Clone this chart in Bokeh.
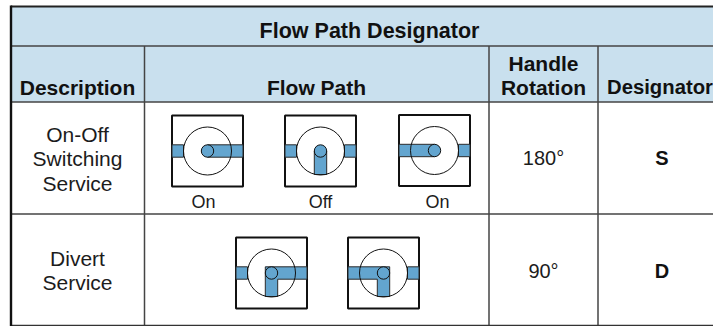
from bokeh.plotting import figure
from bokeh.models import Range1d
from bokeh.core.properties import value
from bokeh.embed import file_html
from bokeh.resources import INLINE

# table content
title = "Flow Path Designator"
headers = ["Description", "Flow Path", "Handle\nRotation", "Designator"]
descriptions = ["On-Off\nSwitching\nService", "Divert\nService"]
rotations = ["180°", "90°"]
designators = ["S", "D"]
state_labels = ["On", "Off", "On"]

# table grid
col_edges = [10.5, 144, 488.5, 597.5, 713]
row_edges = [6, 45.5, 101.5, 213.5, 325]
col_centers = [77, 316, 543, 661.5]
row_centers = [157, 270]

# valve symbols: centre x, centre y, open arms
valve_x = [207, 320, 434, 271, 383]
valve_y = [150.5, 150.5, 150, 272.5, 272.5]
valve_arms = [["right"], ["down"], ["left"], ["right", "down"], ["left", "down"]]
label_x = [203, 320, 437]
label_y = [201, 201.5, 201]

HALF = 35.5
R_BIG = 24
R_SMALL = 6.2
BAND = 6.2
BLUE = "#63a5cf"
HEAD = "#c9e0ee"
FONT = value("Liberation Sans")
INK = "#1c1c1c"

p = figure(width=713, height=326, output_backend="svg", toolbar_location=None,
           x_range=Range1d(0, 713), y_range=Range1d(326, 0), min_border=0,
           outline_line_color=None, background_fill_color="white",
           border_fill_color="white")
p.axis.visible = False
p.grid.visible = False

# header fills
p.quad(left=col_edges[0], right=col_edges[-1], top=row_edges[0], bottom=row_edges[2],
       fill_color=HEAD, line_color=None)

# grid lines
p.segment(x0=[col_edges[0]] * 3, x1=[col_edges[-1]] * 3, y0=row_edges[1:4], y1=row_edges[1:4],
          line_color="#444444", line_width=1.5)
p.segment(x0=col_edges[1:4], x1=col_edges[1:4], y0=[row_edges[1]] * 3, y1=[row_edges[-1]] * 3,
          line_color="#444444", line_width=1.5)
p.segment(x0=[col_edges[0]], x1=[col_edges[-1]], y0=[row_edges[-1]], y1=[row_edges[-1]],
          line_color="#333333", line_width=1.5)
p.segment(x0=[col_edges[0]], x1=[col_edges[-1]], y0=[row_edges[0]], y1=[row_edges[0]],
          line_color="#222222", line_width=2.2)
p.segment(x0=[col_edges[0]], x1=[col_edges[0]], y0=[row_edges[0] - 1], y1=[row_edges[-1] + 1],
          line_color="#111111", line_width=2.4)

# valves
p.quad(left=[x - HALF for x in valve_x], right=[x + HALF for x in valve_x],
       top=[y - HALF for y in valve_y], bottom=[y + HALF for y in valve_y],
       fill_color="white", line_color="#111111", line_width=2)

xs, ys = [], []
for cx, cy, arms in zip(valve_x, valve_y, valve_arms):
    left, right = cx - HALF, cx + HALF
    if "left" not in arms:
        xs.append([left, cx - R_BIG, cx - R_BIG, left])
        ys.append([cy - BAND, cy - BAND, cy + BAND, cy + BAND])
    if "right" not in arms:
        xs.append([cx + R_BIG, right, right, cx + R_BIG])
        ys.append([cy - BAND, cy - BAND, cy + BAND, cy + BAND])
    if arms == ["right"]:
        xs.append([cx, right, right, cx])
        ys.append([cy - BAND, cy - BAND, cy + BAND, cy + BAND])
    elif arms == ["left"]:
        xs.append([left, cx, cx, left])
        ys.append([cy - BAND, cy - BAND, cy + BAND, cy + BAND])
    elif arms == ["down"]:
        xs.append([cx - BAND, cx + BAND, cx + BAND, cx - BAND])
        ys.append([cy, cy, cy + R_BIG - 0.5, cy + R_BIG - 0.5])
    elif arms == ["right", "down"]:
        xs.append([cx - BAND, right, right, cx + BAND, cx + BAND, cx - BAND])
        ys.append([cy - BAND, cy - BAND, cy + BAND, cy + BAND, cy + R_BIG - 0.5, cy + R_BIG - 0.5])
    else:
        xs.append([left, cx + BAND, cx + BAND, cx - BAND, cx - BAND, left])
        ys.append([cy - BAND, cy - BAND, cy + R_BIG - 0.5, cy + R_BIG - 0.5, cy + BAND, cy + BAND])
p.patches(xs, ys, fill_color=BLUE, line_color="#2b2b2b", line_width=1)

p.circle(valve_x, valve_y, radius=R_BIG, fill_color=None, line_color="#111111", line_width=1)
p.circle(valve_x, valve_y, radius=R_SMALL, fill_color=BLUE, line_color="#111111", line_width=1)

# texts
LINE = 24.3
def txt(x, y, s, size, bold=False, color=INK):
    for i, line in enumerate(s):
        p.text([x], [y + i * LINE], text=[line], text_font=FONT, text_font_size=f"{size}px",
               text_font_style="bold" if bold else "normal", text_color=color,
               text_align="center", text_baseline="middle")

txt(369, 30.5, [title], 21.5, True, "#111111")
txt(col_centers[0], 86.5, [headers[0]], 21, True, "#111111")
txt(col_centers[1], 86.5, [headers[1]], 21, True, "#111111")
txt(col_centers[2], 62.5, headers[2].split("\n"), 21, True, "#111111")
txt(659.5, 86.5, [headers[3]], 20.3, True, "#111111")

txt(col_centers[0], 134, descriptions[0].split("\n"), 21)
txt(col_centers[0], 257.5, descriptions[1].split("\n"), 21)
txt(col_centers[2], row_centers[0], [rotations[0]], 20)
txt(col_centers[2], row_centers[1], [rotations[1]], 20)
txt(col_centers[3], row_centers[0], [designators[0]], 20, True, "#111111")
txt(col_centers[3], row_centers[1], [designators[1]], 20, True, "#111111")
for x, y, s in zip(label_x, label_y, state_labels):
    txt(x, y, [s], 18)

open("out.html", "w").write(file_html(p, INLINE))
